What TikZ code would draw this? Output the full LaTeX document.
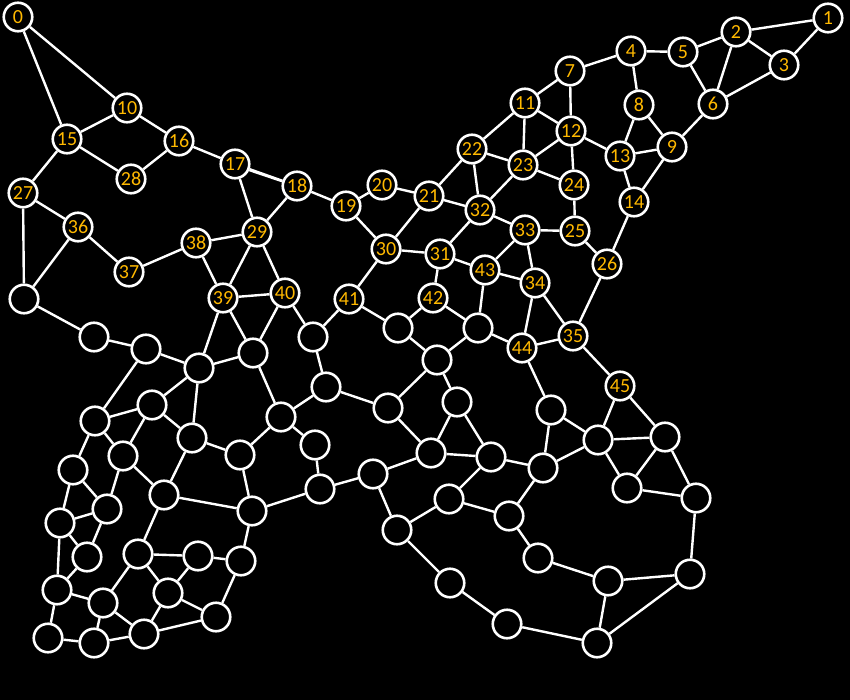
\documentclass[tikz,border=0pt]{standalone}
\usepackage{fontspec}
\setmainfont{Carlito}
\definecolor{lbl}{RGB}{255,185,0}
\begin{document}
\begin{tikzpicture}[x=1pt,y=-1pt,
  vtx/.style={circle,draw=white,line width=2.6pt,fill=black,minimum size=28.5pt,inner sep=0pt,text=lbl,font=\fontsize{20}{20}\selectfont},
  ed/.style={draw=white,line width=2.4pt}]
\fill[black] (0,0) rectangle (850,700);
\useasboundingbox (0,0) rectangle (850,700);
% labelled vertices
\node[vtx] (n0) at (18,17) {0};
\node[vtx] (n1) at (828,18) {1};
\node[vtx] (n2) at (736,32) {2};
\node[vtx] (n3) at (784,65) {3};
\node[vtx] (n4) at (631,51) {4};
\node[vtx] (n5) at (683,52) {5};
\node[vtx] (n6) at (713,104) {6};
\node[vtx] (n7) at (570,71) {7};
\node[vtx] (n8) at (639,105) {8};
\node[vtx] (n9) at (672,147) {9};
\node[vtx] (n10) at (127,108) {10};
\node[vtx] (n11) at (525,103) {11};
\node[vtx] (n12) at (571,131) {12};
\node[vtx] (n13) at (620,156) {13};
\node[vtx] (n14) at (634,202) {14};
\node[vtx] (n15) at (67,139) {15};
\node[vtx] (n16) at (179,141) {16};
\node[vtx] (n17) at (235,164) {17};
\node[vtx] (n18) at (297,186) {18};
\node[vtx] (n19) at (346,206) {19};
\node[vtx] (n20) at (382,185) {20};
\node[vtx] (n21) at (429,196) {21};
\node[vtx] (n22) at (472,149) {22};
\node[vtx] (n23) at (523,165) {23};
\node[vtx] (n24) at (574,185) {24};
\node[vtx] (n25) at (575,231) {25};
\node[vtx] (n26) at (607,264) {26};
\node[vtx] (n27) at (23,193) {27};
\node[vtx] (n28) at (131,179) {28};
\node[vtx] (n29) at (257,232) {29};
\node[vtx] (n30) at (386,249) {30};
\node[vtx] (n31) at (440,254) {31};
\node[vtx] (n32) at (480,210) {32};
\node[vtx] (n33) at (525,230) {33};
\node[vtx] (n34) at (535,283) {34};
\node[vtx] (n35) at (573,336) {35};
\node[vtx] (n36) at (78,227) {36};
\node[vtx] (n37) at (129,272) {37};
\node[vtx] (n38) at (196,243) {38};
\node[vtx] (n39) at (223,298) {39};
\node[vtx] (n40) at (285,293) {40};
\node[vtx] (n41) at (349,299) {41};
\node[vtx] (n42) at (433,298) {42};
\node[vtx] (n43) at (485,270) {43};
\node[vtx] (n44) at (522,348) {44};
\node[vtx] (n45) at (620,386) {45};
% unlabelled vertices
\node[vtx] (a) at (24,299) {};
\node[vtx] (b) at (94,337) {};
\node[vtx] (c) at (146,349) {};
\node[vtx] (d) at (199,368) {};
\node[vtx] (e) at (253,353) {};
\node[vtx] (f) at (95,421) {};
\node[vtx] (g) at (152,405) {};
\node[vtx] (h) at (192,438) {};
\node[vtx] (i) at (240,455) {};
\node[vtx] (j) at (281,417) {};
\node[vtx] (k) at (313,337) {};
\node[vtx] (l) at (398,328) {};
\node[vtx] (m) at (478,328) {};
\node[vtx] (nn) at (437,360) {};
\node[vtx] (o) at (326,387) {};
\node[vtx] (p) at (388,408) {};
\node[vtx] (q) at (457,402) {};
\node[vtx] (r) at (551,410) {};
\node[vtx] (s) at (315,445) {};
\node[vtx] (t) at (320,489) {};
\node[vtx] (u) at (598,440) {};
\node[vtx] (v) at (665,437) {};
\node[vtx] (w) at (123,456) {};
\node[vtx] (z1) at (73,470) {};
\node[vtx] (z2) at (164,495) {};
\node[vtx] (z3) at (107,509) {};
\node[vtx] (z4) at (252,511) {};
\node[vtx] (z5) at (60,523) {};
\node[vtx] (z6) at (87,557) {};
\node[vtx] (z7) at (138,554) {};
\node[vtx] (z8) at (198,556) {};
\node[vtx] (z9) at (241,561) {};
\node[vtx] (z10) at (57,590) {};
\node[vtx] (z11) at (103,603) {};
\node[vtx] (z12) at (168,593) {};
\node[vtx] (z13) at (216,617) {};
\node[vtx] (z14) at (48,638) {};
\node[vtx] (z15) at (94,643) {};
\node[vtx] (z16) at (144,634) {};
\node[vtx] (u1) at (373,474) {};
\node[vtx] (v1) at (431,453) {};
\node[vtx] (w1) at (491,457) {};
\node[vtx] (x1) at (543,468) {};
\node[vtx] (y1) at (449,499) {};
\node[vtx] (zb) at (509,516) {};
\node[vtx] (aa) at (397,530) {};
\node[vtx] (ab) at (538,558) {};
\node[vtx] (ac) at (450,583) {};
\node[vtx] (ad) at (507,624) {};
\node[vtx] (ae) at (627,488) {};
\node[vtx] (af) at (696,498) {};
\node[vtx] (ag) at (608,581) {};
\node[vtx] (ah) at (690,574) {};
\node[vtx] (ai) at (597,643) {};
% edges
\foreach \x/\y in {n0/n10,n0/n15,n15/n10,n10/n16,n15/n28,n28/n16,n15/n27,n16/n17,n17/n18,n17/n29,n18/n29,n18/n19,n19/n20,n20/n21,n19/n30,n21/n30,n21/n22,n21/n32,n22/n11,n22/n23,n22/n32,n11/n23,n11/n7,n11/n12,n7/n12,n7/n4,n12/n23,n12/n24,n12/n13,n23/n24,n23/n32,n24/n25,n32/n33,n33/n25,n25/n26,n14/n26,n26/n35,n4/n5,n4/n8,n5/n2,n5/n6,n2/n1,n2/n3,n2/n6,n1/n3,n3/n6,n6/n9,n8/n13,n8/n9,n9/n13,n9/n14,n13/n14}
  \draw[ed] (\x) -- (\y);
\foreach \x/\y in {n27/n36,n27/a,n36/a,n36/n37,n37/n38,n38/n29,n38/n39,n29/n39,n29/n40,n39/n40,n39/d,n39/e,n40/e,n40/k,a/b,b/c,c/d,d/e,c/f,f/g,g/d,d/h,g/h,g/w,e/j,j/i,h/i,n30/n31,n30/n41,n31/n32,n31/n42,n31/n43,n33/n43,n33/n34,n43/n34,n43/m,n34/n44,n34/n35,n44/n35,m/n44,n42/l,n42/m,n41/l,n41/k,l/nn,m/nn,nn/p,nn/q,k/o,o/p,o/j,j/s,n44/r,r/x1,r/u,n35/n45,n45/u,n45/v,u/v}
  \draw[ed] (\x) -- (\y);
\foreach \x/\y in {f/w,f/z1,w/z2,w/z3,h/z2,i/z4,z2/z4,z4/t,z1/z3,z1/z5,z5/z3,z3/z6,z5/z6,z5/z10,z6/z10,z2/z7,z7/z8,z8/z9,z4/z9,z7/z12,z8/z12,z7/z11,z10/z11,z10/z14,z11/z16,z11/z15,z14/z15,z15/z16,z12/z16,z12/z13,z16/z13,z9/z13,s/t,t/u1,u1/v1,p/v1,q/v1,v1/w1,q/w1,w1/x1,x1/u,w1/y1,u1/aa,aa/y1,y1/zb,x1/zb,zb/ab,ab/ag,aa/ac,ac/ad,ad/ai,u/ae,v/ae,v/af,ae/af,af/ah,ag/ah,ag/ai,ah/ai}
  \draw[ed] (\x) -- (\y);
\draw[ed] (n17.-23) -- (n18.162);
\end{tikzpicture}
\end{document}
